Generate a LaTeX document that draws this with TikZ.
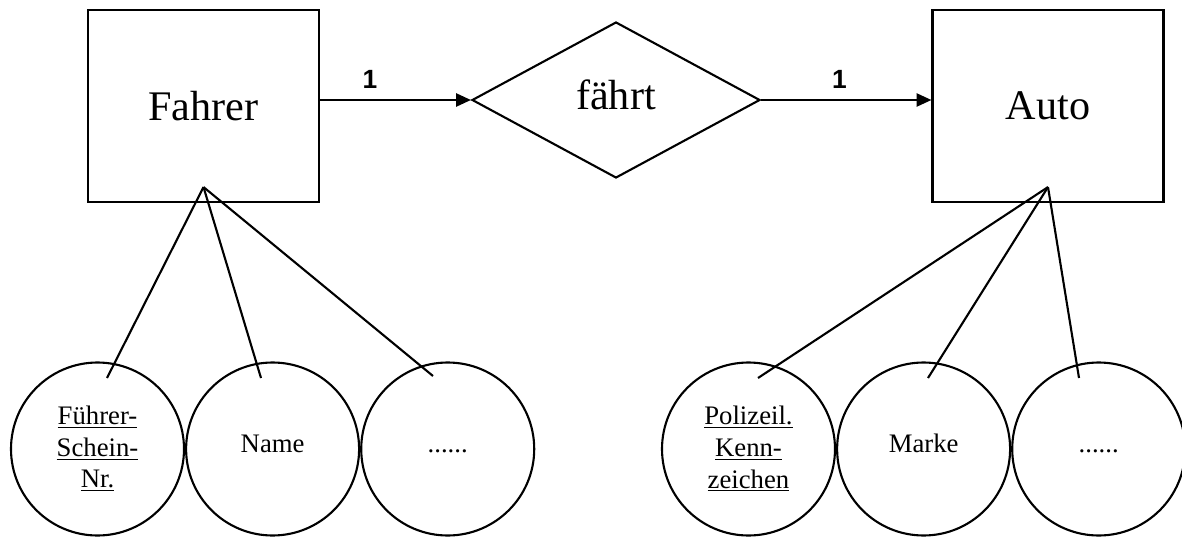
\documentclass[tikz,border=0pt]{standalone}
\usepackage{fontspec}
\setmainfont{Liberation Serif}
\newfontfamily\cardfont{Liberation Sans}
\usepackage{tikz}
\usetikzlibrary{arrows.meta,positioning,shapes.geometric}

\begin{document}
\begin{tikzpicture}[line width=1.2pt,>={Triangle[length=8.5pt,width=7.5pt]},
  entity/.style={rectangle,draw,minimum width=4.62cm,minimum height=3.84cm,font=\fontsize{24}{28}\selectfont},
  relation/.style={diamond,draw,inner sep=0pt,minimum width=5.76cm,minimum height=3.12cm,text depth=0.2cm,font=\fontsize{24}{28}\selectfont},
  attrib/.style={circle,draw,inner sep=0pt,minimum size=3.46cm,align=center,font=\fontsize{15.2}{18}\selectfont},
  oneline/.style={text height=0.12cm,text depth=0cm},
  card/.style={font=\cardfont\bfseries\fontsize{15}{17}\selectfont}]
\useasboundingbox (0,0) rectangle (23.64,-10.74);
\node[entity] (fahrer) at (4.07,-2.12) {Fahrer};
\node[relation] (faehrt) at (12.32,-2.0) {f\"ahrt};
\node[entity] (auto) at (20.96,-2.12) {Auto};
\draw[->] (fahrer.east |- faehrt.west) -- node[card,above=1mm,pos=0.33]{1} (faehrt.west);
\draw[->] (faehrt.east) -- node[card,above=1mm,pos=0.46]{1} (auto.west |- faehrt.east);
% attributes
\node[attrib] (fsnr) at (1.95,-8.98) {\underline{F\"uhrer-}\\\underline{Schein-}\\\underline{Nr.}};
\node[attrib,oneline,right=0cm of fsnr] (name) {Name};
\node[attrib,oneline,right=0cm of name] (fmore) {......};
\node[attrib] (kennz) at (14.97,-8.98) {\underline{Polizeil.}\\\underline{Kenn-}\\\underline{zeichen}};
\node[attrib,oneline,right=0cm of kennz] (marke) {Marke};
\node[attrib,oneline,right=0cm of marke] (amore) {......};
\coordinate (fa) at ([yshift=0.32cm]fahrer.south);
\coordinate (aa) at ([yshift=0.32cm]auto.south);
\coordinate (fsnr-in) at (2.14,-7.56);
\coordinate (name-in) at (5.22,-7.56);
\coordinate (fmore-in) at (8.66,-7.52);
\coordinate (kennz-in) at (15.16,-7.56);
\coordinate (marke-in) at (18.56,-7.56);
\coordinate (amore-in) at (21.58,-7.56);
\draw (fa)--(fsnr-in);\draw (fa)--(name-in);\draw (fa)--(fmore-in);
\draw (aa)--(kennz-in);\draw (aa)--(marke-in);\draw (aa)--(amore-in);
\end{tikzpicture}
\end{document}
